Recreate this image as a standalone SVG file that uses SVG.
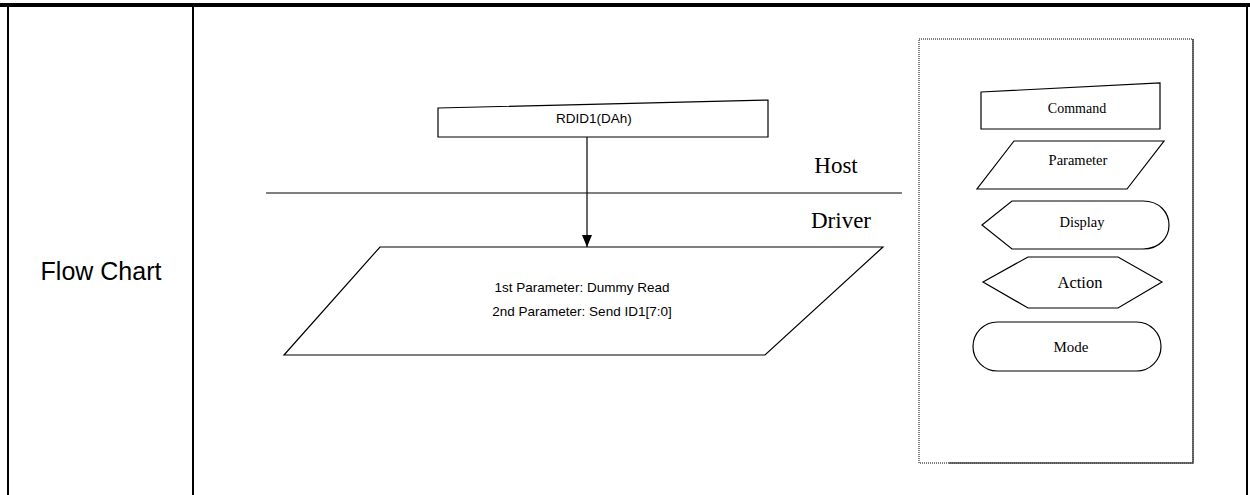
<svg xmlns="http://www.w3.org/2000/svg" width="1250" height="495" viewBox="0 0 1250 495">
<style>
.sh{fill:#fff;stroke:#000;stroke-width:1.2}
.a{font-family:"Liberation Sans",Arial,sans-serif;fill:#000;text-anchor:middle}
.t{font-family:"Liberation Serif","Times New Roman",serif;fill:#000;text-anchor:middle}
</style>
<defs>
<marker id="arr" markerWidth="12" markerHeight="10" refX="12" refY="5" orient="auto" markerUnits="userSpaceOnUse" viewBox="0 0 12 10">
<path d="M0,0 L12,5 L0,10 Z" fill="#000"/>
</marker>
</defs>
<rect width="1250" height="495" fill="#fff"/>
<g id="table">
<rect x="0" y="3" width="1250" height="4" fill="#000"/>
<rect x="7" y="5" width="2" height="490" fill="#000"/>
<rect x="192" y="5" width="2" height="490" fill="#000"/>
<rect x="1246" y="5" width="2" height="490" fill="#000"/>
<text class="a" x="101" y="280" font-size="25">Flow Chart</text>
</g>
<g id="host-driver">
<line x1="266" y1="193" x2="902" y2="193" stroke="#000" stroke-width="1.2"/>
<text class="t" x="836" y="173" font-size="23">Host</text>
<text class="t" x="841" y="228" font-size="23">Driver</text>
</g>
<g id="rdid1">
<polygon class="sh" points="438,108 768,100 768,137 438,137"/>
<text class="a" x="594" y="123" font-size="13.5">RDID1(DAh)</text>
</g>
<g id="params">
<polygon class="sh" points="380,247 883,247 765,355 284,355"/>
<text class="a" x="582" y="292" font-size="13.5">1st Parameter: Dummy Read</text>
<text class="a" x="582" y="316" font-size="13.5">2nd Parameter: Send ID1[7:0]</text>
</g>
<g id="connectors">
<line x1="587" y1="137" x2="587" y2="247" stroke="#000" stroke-width="1.2" marker-end="url(#arr)"/>
</g>
<g id="legend">
<rect x="919" y="39" width="274" height="424" fill="none" stroke="#000" stroke-width="1" stroke-dasharray="1,1"/>
<polyline points="1193,39 1193,463 949,463" fill="none" stroke="#444" stroke-width="1.5"/>
</g>
<g id="leg-command">
<polygon class="sh" points="981,92 1160,83 1160,129 981,129"/>
<text class="t" x="1077" y="113" font-size="14">Command</text>
</g>
<g id="leg-parameter">
<polygon class="sh" points="1014,141 1164,141 1127,189 977,189"/>
<text class="t" x="1078" y="165" font-size="14.5">Parameter</text>
</g>
<g id="leg-display">
<path class="sh" d="M982,225 L1012,201 L1143,201 C1160,201 1169,213 1169,225 C1169,237 1160,249 1143,249 L1012,249 Z"/>
<text class="t" x="1082" y="227" font-size="14.5">Display</text>
</g>
<g id="leg-action">
<polygon class="sh" points="1028,257 1118,257 1162,282 1118,308 1028,308 983,282"/>
<text class="t" x="1080" y="288" font-size="16.5">Action</text>
</g>
<g id="leg-mode">
<rect class="sh" x="973" y="322" width="188" height="49" rx="24.5" ry="24.5"/>
<text class="t" x="1071" y="352" font-size="15">Mode</text>
</g>
</svg>
